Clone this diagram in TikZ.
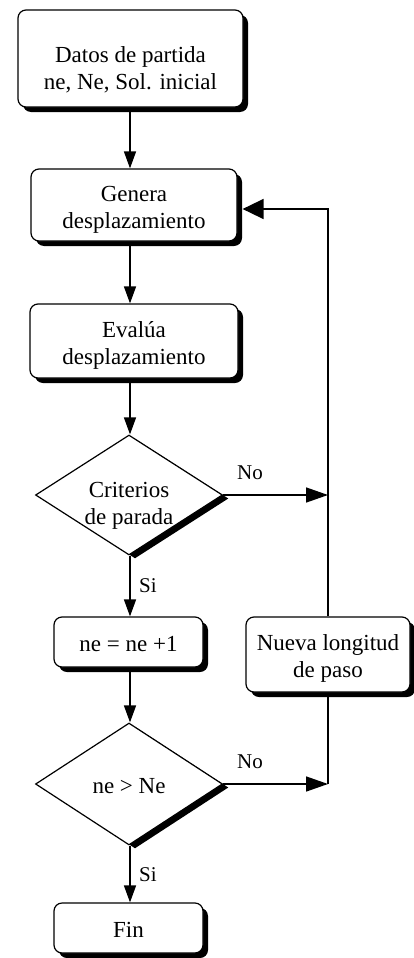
\documentclass[tikz,border=0pt]{standalone}
\usepackage{fontspec}
\setmainfont{Liberation Serif}
\usetikzlibrary{shapes.geometric,shadows,arrows.meta}
\begin{document}
\begin{tikzpicture}[x=1pt,y=-1pt,
  box/.style={draw, line width=1.2pt, fill=white, rounded corners=8pt, align=center,
    inner sep=0pt, text height=19pt, text depth=0pt,
    font=\fontsize{23}{27}\selectfont,
    drop shadow={shadow xshift=5pt, shadow yshift=-5pt, fill=black, opacity=1}},
  two/.style={text height=46pt},
  dia/.style={diamond, draw, line width=1.2pt, fill=white, align=center, aspect=1.56,
    inner sep=0pt, text height=19pt, text depth=0pt,
    font=\fontsize{23}{27}\selectfont,
    drop shadow={shadow xshift=6pt, shadow yshift=-3.5pt, fill=black, opacity=1}},
  conn/.style={line width=1.5pt},
  darr/.style={conn, -{Triangle[length=17pt,width=12pt]}},
  harr/.style={conn, -{Triangle[length=22pt,width=15pt]}},
  larr/.style={conn, -{Triangle[length=21pt,width=20pt]}},
  lbl/.style={font=\fontsize{21}{25}\selectfont, inner sep=0pt}]

\useasboundingbox (0,0) rectangle (413,958);

\node[box, minimum width=225pt, minimum height=97pt, text height=62pt] (b1) at (130.5,58.5)
  {Datos de partida\\ne, Ne, Sol. inicial};
\node[box, two, minimum width=206pt, minimum height=72pt] (gen) at (134,205)
  {Genera\\desplazamiento};
\node[box, two, minimum width=208pt, minimum height=74pt] (eva) at (134,341)
  {Evalúa\\desplazamiento};
\node[dia, minimum width=187pt, minimum height=120pt, text height=58pt] (d1) at (129,495)
  {Criterios\\de parada};
\node[box, minimum width=149pt, minimum height=50pt] (ne) at (128.5,642)
  {ne = ne +1};
\node[box, two, minimum width=164pt, minimum height=75pt] (nueva) at (328,654.5)
  {Nueva longitud\\de paso};
\node[dia, minimum width=187pt, minimum height=122pt] (d2) at (129,784)
  {ne > Ne};
\node[box, minimum width=149pt, minimum height=50pt] (fin) at (128.5,928)
  {Fin};

\coordinate (vtop) at (328,209);

\draw[darr] (b1.south -| 130,0) -- (gen.north -| 130,0);
\draw[darr] (gen.south -| 130,0) -- (eva.north -| 130,0);
\draw[darr] (eva.south -| 130,0) -- (d1.north -| 130,0);
\draw[darr] (d1.south -| 130,0) -- (ne.north -| 130,0);
\draw[darr] (ne.south -| 130,0) -- (d2.north -| 130,0);
\draw[darr] (d2.south -| 130,0) -- (fin.north -| 130,0);

\draw[harr] (d1.east) -- (d1.east -| nueva.north);
\draw[harr] (d2.east) -- (d2.east -| nueva.north);
\draw[conn] (nueva.south) -- (d2.east -| nueva.south);
\draw[larr, shorten >=5pt] (nueva.north) -- (vtop) -- (gen.east |- vtop);

\node[lbl] (no1) at (250,473) {No};
\node[lbl] (no2) at (250,762) {No};
\node[lbl] (si1) at (148,586) {Si};
\node[lbl] (si2) at (148,875) {Si};
\end{tikzpicture}
\end{document}
